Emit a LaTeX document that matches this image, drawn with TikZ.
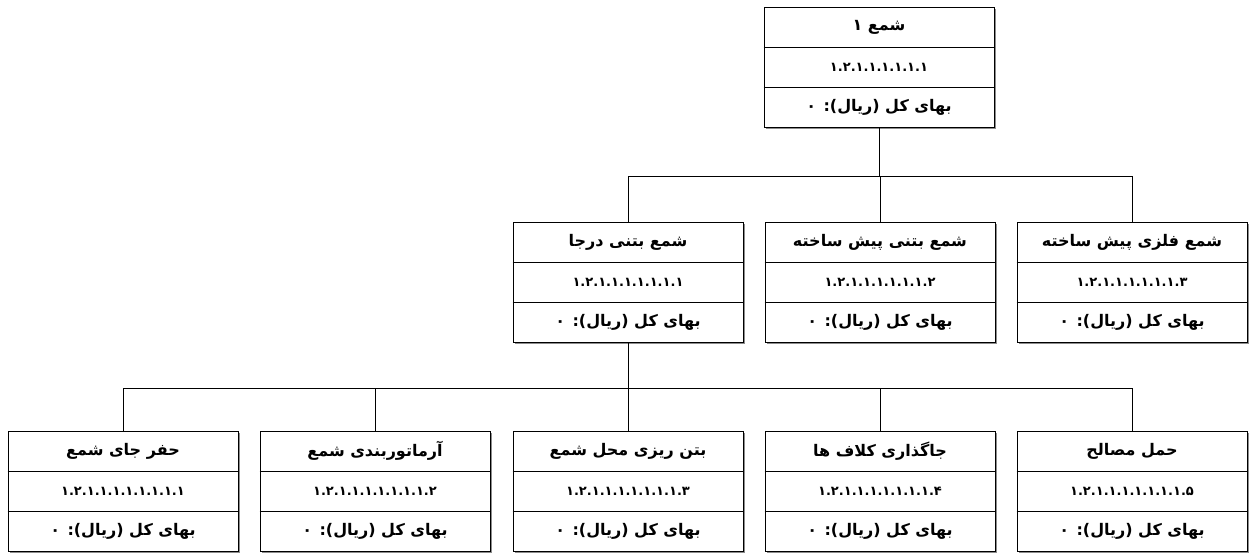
\documentclass[tikz,border=0pt]{standalone}
\usepackage{fontspec}
\newfontfamily\fa[Script=Arabic]{DejaVu Sans}
\TeXXeTstate=1
\usetikzlibrary{calc}
\tikzset{
  wbsbox/.style={draw=black, line width=0.9pt, fill=white, rectangle, minimum width=230pt, minimum height=120pt, inner sep=0pt, anchor=north},
  wbsshadow/.style={fill=black!45},
  wbstext/.style={font=\fa\bfseries\fontsize{16}{18}\selectfont, inner sep=0pt, anchor=center},
  wbsnum/.style={font=\fa\bfseries\fontsize{13}{15}\selectfont, inner sep=0pt, anchor=center},
  conn/.style={draw=black, line width=0.8pt}
}
\newcommand{\wbsnode}[5]{%
  \fill[wbsshadow] (#2-113,#3+2) rectangle (#2+117,#3+122);
  \node[wbsbox] (#1) at (#2,#3) {};
  \draw[line width=0.7pt] ($(#1.north west)+(0,40)$) -- ($(#1.north east)+(0,40)$);
  \draw[line width=0.7pt] ($(#1.north west)+(0,80)$) -- ($(#1.north east)+(0,80)$);
  \node[wbstext] (#1-t) at ($(#1.north)+(0,20)$) {#4};
  \node[wbsnum] (#1-n) at ($(#1.north)+(0,60)$) {#5};
  \node[wbstext] (#1-c) at ($(#1.north)+(0,100)$) {\beginR بهای کل (ریال): ۰\endR};
}
\begin{document}
\begin{tikzpicture}[x=1pt,y=-1pt]
\useasboundingbox (0,0) rectangle (1253,552);
\wbsnode{root}{879}{7}{\beginR شمع ۱\endR}{۱.۲.۱.۱.۱.۱.۱.۱}
\wbsnode{a}{628}{222}{\beginR شمع بتنی درجا\endR}{۱.۲.۱.۱.۱.۱.۱.۱.۱}
\wbsnode{b}{880}{222}{\beginR شمع بتنی پیش ساخته\endR}{۱.۲.۱.۱.۱.۱.۱.۱.۲}
\wbsnode{c}{1132}{222}{\beginR شمع فلزی پیش ساخته\endR}{۱.۲.۱.۱.۱.۱.۱.۱.۳}
\wbsnode{t1}{123}{431}{\beginR حفر جای شمع\endR}{۱.۲.۱.۱.۱.۱.۱.۱.۱.۱}
\wbsnode{t2}{375}{431}{\beginR آرماتوربندی شمع\endR}{۱.۲.۱.۱.۱.۱.۱.۱.۱.۲}
\wbsnode{t3}{628}{431}{\beginR بتن ریزی محل شمع\endR}{۱.۲.۱.۱.۱.۱.۱.۱.۱.۳}
\wbsnode{t4}{880}{431}{\beginR جاگذاری کلاف ها\endR}{۱.۲.۱.۱.۱.۱.۱.۱.۱.۴}
\wbsnode{t5}{1132}{431}{\beginR حمل مصالح\endR}{۱.۲.۱.۱.۱.۱.۱.۱.۱.۵}
\draw[conn] (root.south) -- ++(0,48) coordinate (j1);
\draw[conn] (j1) -| (a.north);
\draw[conn] (j1) -| (c.north);
\draw[conn] (j1) -| (b.north);
\draw[conn] (a.south) -- ++(0,45) coordinate (j2);
\draw[conn] (j2) -| (t1.north);
\draw[conn] (j2) -| (t2.north);
\draw[conn] (j2) -- (t3.north);
\draw[conn] (j2) -| (t4.north);
\draw[conn] (j2) -| (t5.north);
\end{tikzpicture}
\end{document}
